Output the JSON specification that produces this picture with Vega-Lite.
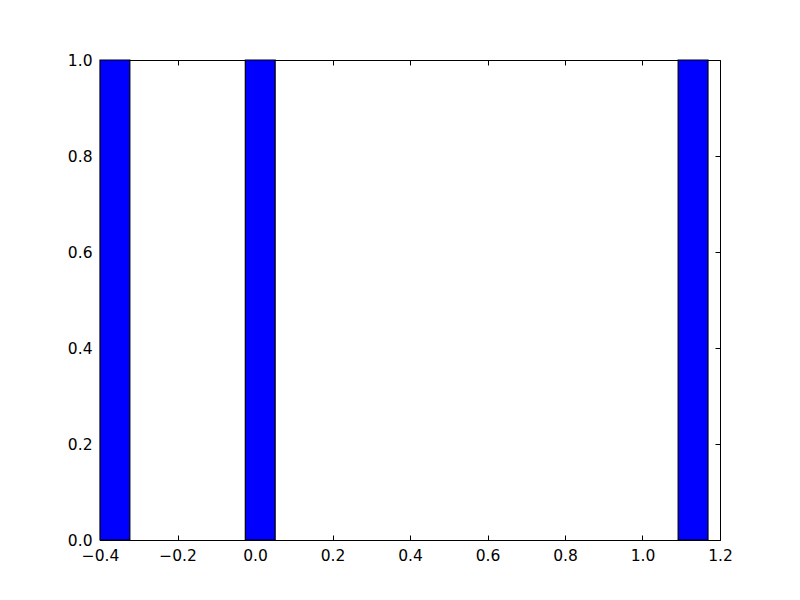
{
  "$schema": "https://vega.github.io/schema/vega-lite/v6.json",
  "width": 620,
  "height": 480,
  "autosize": {"type": "none"},
  "padding": {"left": 100, "top": 60, "right": 80, "bottom": 60},
  "background": "white",
  "config": {
    "view": {"stroke": "black", "strokeWidth": 1},
    "font": "DejaVu Sans",
    "axis": {
      "grid": false,
      "domain": false,
      "tickColor": "black",
      "tickSize": -5,
      "tickWidth": 1,
      "labelFont": "DejaVu Sans",
      "labelFontSize": 15.5,
      "labelColor": "black",
      "title": null
    }
  },
  "data": {
    "values": [
      {"start": -0.4, "end": -0.323, "count": 1},
      {"start": -0.025, "end": 0.052, "count": 1},
      {"start": 1.092, "end": 1.169, "count": 1}
    ]
  },
  "layer": [
    {
      "mark": {"type": "rect", "fill": "#0000ff", "stroke": "#000000", "strokeWidth": 1.2, "fillOpacity": 1},
      "encoding": {
        "x": {
          "field": "start", "type": "quantitative",
          "scale": {"domain": [-0.4, 1.2], "nice": false, "zero": false},
          "axis": {"orient": "bottom", "values": [-0.4, -0.2, 0, 0.2, 0.4, 0.6, 0.8, 1.0, 1.2], "format": ".1f", "labelPadding": 13, "labelFlush": false, "labelFontSize": 15.5}
        },
        "x2": {"field": "end"},
        "y": {
          "field": "count", "type": "quantitative",
          "scale": {"domain": [0, 1], "nice": false},
          "axis": {"orient": "left", "values": [0, 0.2, 0.4, 0.6, 0.8, 1.0], "format": ".1f", "labelPadding": 13, "labelFlush": false, "labelFontSize": 15.5}
        },
        "y2": {"datum": 0}
      }
    },
    {
      "mark": {"type": "rule", "opacity": 0},
      "encoding": {
        "x": {
          "field": "start", "type": "quantitative",
          "scale": {"domain": [-0.4, 1.2], "nice": false, "zero": false},
          "axis": {"orient": "top", "values": [-0.4, -0.2, 0, 0.2, 0.4, 0.6, 0.8, 1.0, 1.2], "labels": false}
        },
        "y": {
          "field": "count", "type": "quantitative",
          "scale": {"domain": [0, 1], "nice": false},
          "axis": {"orient": "right", "values": [0, 0.2, 0.4, 0.6, 0.8, 1.0], "labels": false}
        }
      }
    }
  ],
  "resolve": {"axis": {"x": "independent", "y": "independent"}}
}
